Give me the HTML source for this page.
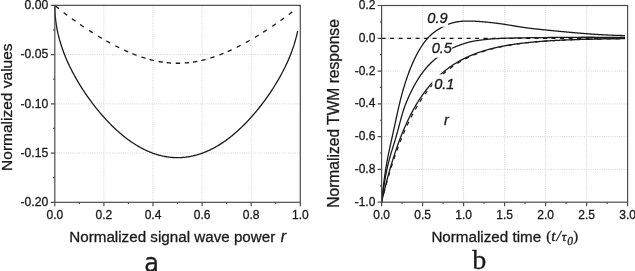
<!DOCTYPE html>
<html><head><meta charset="utf-8"><style>
html,body{margin:0;padding:0;background:#fff;width:635px;height:271px;overflow:hidden}
svg{display:block}
.t{font-family:"Liberation Sans",Arial,sans-serif}
text{stroke:#1a1a1a;stroke-width:0.3px}
</style></head><body>
<svg width="635" height="271" viewBox="0 0 635 271"><path d="M103.9 5.35 V202.3 M153 5.35 V202.3 M202.1 5.35 V202.3 M251.2 5.35 V202.3 M54.8 54.59 H300.3 M54.8 103.83 H300.3 M54.8 153.06 H300.3 M422.6 5.5 V202.2 M463.6 5.5 V202.2 M504.6 5.5 V202.2 M545.6 5.5 V202.2 M586.6 5.5 V202.2 M381.6 38.28 H627.6 M381.6 71.07 H627.6 M381.6 103.85 H627.6 M381.6 136.63 H627.6 M381.6 169.42 H627.6" stroke="#d4d4d4" stroke-width="1" stroke-dasharray="1 1.2" fill="none"/>
<path d="M54.8 5.35 L54.88 9.9 L54.97 11.79 L55.05 13.23 L55.13 14.45 L55.22 15.53 L55.3 16.5 L55.38 17.39 L55.47 18.22 L55.55 19 L55.63 19.74 L55.72 20.44 L55.8 21.11 L55.88 21.76 L55.97 22.38 L56.05 22.97 L56.13 23.55 L56.21 24.11 L56.3 24.66 L56.38 25.18 L56.46 25.7 L56.55 26.2 L56.63 26.69 L56.71 27.17 L56.8 27.64 L56.88 28.1 L56.96 28.55 L57.05 28.99 L57.13 29.42 L57.21 29.85 L57.3 30.27 L57.38 30.68 L57.46 31.09 L57.55 31.48 L57.63 31.88 L57.71 32.26 L57.8 32.65 L57.88 33.02 L57.96 33.39 L58.05 33.76 L58.13 34.12 L58.21 34.48 L58.3 34.83 L58.38 35.18 L58.46 35.52 L58.54 35.86 L58.63 36.2 L58.71 36.54 L58.79 36.87 L58.88 37.19 L58.96 37.51 L59.04 37.83 L59.13 38.15 L59.21 38.47 L59.29 38.78 L59.38 39.08 L59.46 39.39 L59.54 39.69 L59.63 39.99 L59.71 40.29 L60.49 42.96 L61.27 45.46 L62.05 47.81 L62.83 50.05 L63.61 52.17 L64.39 54.21 L65.17 56.17 L65.95 58.06 L66.73 59.89 L67.51 61.66 L68.29 63.38 L69.07 65.05 L69.85 66.68 L70.63 68.27 L71.41 69.83 L72.19 71.35 L72.97 72.83 L73.75 74.29 L74.53 75.72 L75.31 77.13 L76.09 78.51 L76.87 79.87 L77.65 81.2 L78.43 82.52 L79.21 83.81 L79.99 85.08 L80.77 86.34 L81.55 87.58 L82.33 88.8 L83.11 90 L83.89 91.19 L84.67 92.36 L85.45 93.52 L86.23 94.66 L87.01 95.79 L87.79 96.9 L88.57 98 L89.35 99.09 L90.13 100.17 L90.91 101.23 L91.69 102.28 L92.47 103.32 L93.25 104.34 L94.03 105.36 L94.81 106.36 L95.59 107.35 L96.37 108.33 L97.15 109.3 L97.93 110.26 L98.71 111.2 L99.49 112.14 L100.27 113.06 L101.05 113.98 L101.83 114.88 L102.61 115.78 L103.39 116.66 L104.17 117.54 L104.95 118.4 L105.73 119.25 L106.51 120.09 L107.29 120.93 L108.07 121.75 L108.85 122.56 L109.63 123.37 L110.41 124.16 L111.19 124.95 L111.97 125.72 L112.75 126.49 L113.53 127.24 L114.31 127.99 L115.09 128.72 L115.87 129.45 L116.65 130.16 L117.43 130.87 L118.21 131.57 L118.99 132.26 L119.77 132.94 L120.55 133.6 L121.33 134.26 L122.11 134.91 L122.89 135.56 L123.67 136.19 L124.45 136.81 L125.23 137.42 L126.01 138.03 L126.79 138.62 L127.57 139.2 L128.35 139.78 L129.13 140.35 L129.91 140.9 L130.69 141.45 L131.47 141.99 L132.25 142.52 L133.03 143.04 L133.81 143.55 L134.59 144.05 L135.37 144.54 L136.15 145.03 L136.93 145.5 L137.71 145.96 L138.49 146.42 L139.27 146.87 L140.05 147.3 L140.83 147.73 L141.61 148.15 L142.39 148.56 L143.17 148.96 L143.95 149.35 L144.73 149.73 L145.51 150.11 L146.29 150.47 L147.07 150.82 L147.85 151.17 L148.63 151.51 L149.41 151.83 L150.19 152.15 L150.97 152.46 L151.75 152.76 L152.53 153.05 L153.31 153.34 L154.09 153.61 L154.87 153.88 L155.65 154.13 L156.43 154.38 L157.21 154.61 L157.99 154.84 L158.77 155.06 L159.55 155.27 L160.33 155.47 L161.11 155.67 L161.89 155.85 L162.67 156.02 L163.45 156.19 L164.23 156.35 L165.01 156.49 L165.79 156.63 L166.57 156.76 L167.35 156.88 L168.13 157 L168.91 157.1 L169.69 157.19 L170.47 157.28 L171.25 157.36 L172.03 157.42 L172.81 157.48 L173.59 157.53 L174.37 157.57 L175.15 157.6 L175.93 157.63 L176.71 157.64 L177.49 157.65 L178.27 157.64 L179.05 157.63 L179.83 157.61 L180.61 157.58 L181.39 157.54 L182.17 157.49 L182.95 157.43 L183.73 157.37 L184.51 157.29 L185.29 157.21 L186.07 157.11 L186.85 157.01 L187.63 156.9 L188.41 156.78 L189.19 156.65 L189.97 156.52 L190.75 156.37 L191.53 156.21 L192.31 156.05 L193.09 155.88 L193.87 155.69 L194.65 155.5 L195.43 155.3 L196.21 155.09 L196.99 154.88 L197.77 154.65 L198.55 154.41 L199.33 154.17 L200.11 153.91 L200.89 153.65 L201.67 153.38 L202.45 153.1 L203.23 152.81 L204.01 152.51 L204.79 152.2 L205.57 151.88 L206.35 151.56 L207.13 151.22 L207.91 150.88 L208.69 150.52 L209.47 150.16 L210.25 149.79 L211.03 149.41 L211.81 149.02 L212.59 148.62 L213.37 148.21 L214.15 147.79 L214.93 147.37 L215.71 146.93 L216.49 146.49 L217.27 146.03 L218.05 145.57 L218.83 145.1 L219.61 144.61 L220.39 144.12 L221.17 143.62 L221.95 143.11 L222.73 142.6 L223.51 142.07 L224.29 141.53 L225.07 140.98 L225.85 140.43 L226.63 139.86 L227.41 139.29 L228.19 138.71 L228.97 138.11 L229.75 137.51 L230.53 136.9 L231.31 136.28 L232.09 135.65 L232.87 135.01 L233.65 134.36 L234.43 133.7 L235.21 133.03 L235.99 132.36 L236.77 131.67 L237.55 130.97 L238.33 130.27 L239.11 129.55 L239.89 128.83 L240.67 128.09 L241.45 127.35 L242.23 126.6 L243.01 125.83 L243.79 125.06 L244.57 124.28 L245.35 123.49 L246.13 122.68 L246.91 121.87 L247.69 121.05 L248.47 120.22 L249.25 119.38 L250.03 118.52 L250.81 117.66 L251.59 116.79 L252.37 115.91 L253.15 115.02 L253.93 114.11 L254.71 113.2 L255.49 112.28 L256.27 111.34 L257.05 110.4 L257.83 109.44 L258.61 108.47 L259.39 107.5 L260.17 106.51 L260.95 105.51 L261.73 104.49 L262.51 103.47 L263.29 102.43 L264.07 101.39 L264.85 100.32 L265.63 99.25 L266.41 98.17 L267.19 97.07 L267.97 95.95 L268.75 94.83 L269.53 93.69 L270.31 92.53 L271.09 91.36 L271.87 90.18 L272.65 88.98 L273.43 87.76 L274.21 86.52 L274.99 85.27 L275.77 84 L276.55 82.71 L277.33 81.4 L278.11 80.07 L278.89 78.71 L279.67 77.34 L280.45 75.93 L281.23 74.51 L282.01 73.05 L282.79 71.57 L283.57 70.05 L284.35 68.5 L285.13 66.92 L285.91 65.29 L286.69 63.63 L287.47 61.91 L288.25 60.15 L289.03 58.33 L289.81 56.45 L290.59 54.51 L291.37 52.48 L292.15 50.37 L292.94 48.15 L293.1 47.67 L293.26 47.18 L293.43 46.69 L293.59 46.19 L293.76 45.69 L293.92 45.18 L294.08 44.66 L294.25 44.14 L294.41 43.61 L294.58 43.07 L294.74 42.53 L294.91 41.97 L295.07 41.41 L295.23 40.84 L295.4 40.26 L295.56 39.67 L295.73 39.07 L295.89 38.46 L296.06 37.84 L296.22 37.2 L296.38 36.55 L296.55 35.89 L296.71 35.22 L296.88 34.53 L297.04 33.82 L297.21 33.09 L297.37 32.35 L297.53 31.58 L297.7 30.79" stroke="#1a1a1a" stroke-width="1.3" fill="none"/>
<path d="M54.8 5.35 L55.62 6.04 L56.44 6.72 L57.26 7.4 L58.08 8.07 L58.91 8.74 L59.73 9.4 L60.55 10.06 L61.37 10.71 L62.19 11.36 L63.01 12 L63.83 12.64 L64.65 13.27 L65.47 13.9 L66.29 14.52 L67.12 15.14 L67.94 15.76 L68.76 16.37 L69.58 16.98 L70.4 17.58 L71.22 18.18 L72.04 18.78 L72.86 19.37 L73.68 19.96 L74.51 20.55 L75.33 21.13 L76.15 21.71 L76.97 22.29 L77.79 22.86 L78.61 23.43 L79.43 24 L80.25 24.57 L81.07 25.13 L81.9 25.68 L82.72 26.24 L83.54 26.79 L84.36 27.34 L85.18 27.88 L86 28.43 L86.82 28.97 L87.64 29.5 L88.46 30.04 L89.28 30.57 L90.11 31.1 L90.93 31.62 L91.75 32.14 L92.57 32.66 L93.39 33.18 L94.21 33.69 L95.03 34.2 L95.85 34.71 L96.67 35.21 L97.5 35.71 L98.32 36.21 L99.14 36.71 L99.96 37.2 L100.78 37.69 L101.6 38.17 L102.42 38.65 L103.24 39.13 L104.06 39.61 L104.89 40.08 L105.71 40.55 L106.53 41.02 L107.35 41.48 L108.17 41.94 L108.99 42.39 L109.81 42.84 L110.63 43.29 L111.45 43.74 L112.27 44.18 L113.1 44.61 L113.92 45.05 L114.74 45.48 L115.56 45.9 L116.38 46.32 L117.2 46.74 L118.02 47.15 L118.84 47.56 L119.66 47.97 L120.49 48.37 L121.31 48.77 L122.13 49.16 L122.95 49.55 L123.77 49.93 L124.59 50.31 L125.41 50.69 L126.23 51.06 L127.05 51.42 L127.88 51.78 L128.7 52.14 L129.52 52.49 L130.34 52.84 L131.16 53.18 L131.98 53.52 L132.8 53.85 L133.62 54.18 L134.44 54.5 L135.26 54.82 L136.09 55.13 L136.91 55.44 L137.73 55.74 L138.55 56.04 L139.37 56.33 L140.19 56.61 L141.01 56.89 L141.83 57.17 L142.65 57.44 L143.48 57.7 L144.3 57.96 L145.12 58.21 L145.94 58.46 L146.76 58.7 L147.58 58.94 L148.4 59.16 L149.22 59.39 L150.04 59.61 L150.87 59.82 L151.69 60.02 L152.51 60.22 L153.33 60.42 L154.15 60.6 L154.97 60.78 L155.79 60.96 L156.61 61.13 L157.43 61.29 L158.25 61.45 L159.08 61.6 L159.9 61.74 L160.72 61.88 L161.54 62.01 L162.36 62.13 L163.18 62.25 L164 62.36 L164.82 62.47 L165.64 62.57 L166.47 62.66 L167.29 62.74 L168.11 62.82 L168.93 62.9 L169.75 62.96 L170.57 63.02 L171.39 63.08 L172.21 63.12 L173.03 63.16 L173.86 63.19 L174.68 63.22 L175.5 63.24 L176.32 63.25 L177.14 63.26 L177.96 63.26 L178.78 63.25 L179.6 63.24 L180.42 63.22 L181.24 63.19 L182.07 63.16 L182.89 63.12 L183.71 63.08 L184.53 63.02 L185.35 62.96 L186.17 62.9 L186.99 62.82 L187.81 62.74 L188.63 62.66 L189.46 62.57 L190.28 62.47 L191.1 62.36 L191.92 62.25 L192.74 62.13 L193.56 62.01 L194.38 61.88 L195.2 61.74 L196.02 61.6 L196.85 61.45 L197.67 61.29 L198.49 61.13 L199.31 60.96 L200.13 60.78 L200.95 60.6 L201.77 60.42 L202.59 60.22 L203.41 60.02 L204.23 59.82 L205.06 59.61 L205.88 59.39 L206.7 59.16 L207.52 58.94 L208.34 58.7 L209.16 58.46 L209.98 58.21 L210.8 57.96 L211.62 57.7 L212.45 57.44 L213.27 57.17 L214.09 56.89 L214.91 56.61 L215.73 56.33 L216.55 56.04 L217.37 55.74 L218.19 55.44 L219.01 55.13 L219.84 54.82 L220.66 54.5 L221.48 54.18 L222.3 53.85 L223.12 53.52 L223.94 53.18 L224.76 52.84 L225.58 52.49 L226.4 52.14 L227.22 51.78 L228.05 51.42 L228.87 51.06 L229.69 50.69 L230.51 50.31 L231.33 49.93 L232.15 49.55 L232.97 49.16 L233.79 48.77 L234.61 48.37 L235.44 47.97 L236.26 47.56 L237.08 47.15 L237.9 46.74 L238.72 46.32 L239.54 45.9 L240.36 45.48 L241.18 45.05 L242 44.61 L242.83 44.18 L243.65 43.74 L244.47 43.29 L245.29 42.84 L246.11 42.39 L246.93 41.94 L247.75 41.48 L248.57 41.02 L249.39 40.55 L250.21 40.08 L251.04 39.61 L251.86 39.13 L252.68 38.65 L253.5 38.17 L254.32 37.69 L255.14 37.2 L255.96 36.71 L256.78 36.21 L257.6 35.71 L258.43 35.21 L259.25 34.71 L260.07 34.2 L260.89 33.69 L261.71 33.18 L262.53 32.66 L263.35 32.14 L264.17 31.62 L264.99 31.1 L265.82 30.57 L266.64 30.04 L267.46 29.5 L268.28 28.97 L269.1 28.43 L269.92 27.88 L270.74 27.34 L271.56 26.79 L272.38 26.24 L273.2 25.68 L274.03 25.13 L274.85 24.57 L275.67 24 L276.49 23.43 L277.31 22.86 L278.13 22.29 L278.95 21.71 L279.77 21.13 L280.59 20.55 L281.42 19.96 L282.24 19.37 L283.06 18.78 L283.88 18.18 L284.7 17.58 L285.52 16.98 L286.34 16.37 L287.16 15.76 L287.98 15.14 L288.81 14.52 L289.63 13.9 L290.45 13.27 L291.27 12.64 L292.09 12 L292.91 11.36 L293.73 10.71 L294.55 10.06 L295.37 9.4 L296.19 8.74 L297.02 8.07 L297.84 7.4 L298.66 6.72 L299.48 6.04 L300.3 5.35" stroke="#1a1a1a" stroke-width="1.3" stroke-dasharray="5.40 6.07 4.40 5.81 4.40 5.61 4.40 6.41 4.40 6.22 4.40 5.08 4.40 5.83 4.40 5.61 4.40 4.51 4.40 5.18 4.40 4.13 4.40 4.82 4.40 3.88 4.40 4.64 4.40 4.65 4.40 3.88 4.40 3.99 4.40 5.00 4.40 5.20 4.40 4.52 4.40 5.63 4.40 5.85 4.40 6.06 4.40 5.27 4.40 6.43 4.40 5.63 4.40 5.83 4.40 9.24 1.20 10.00" fill="none"/>
<path d="M381.6 38.28 H627.6" stroke="#1a1a1a" stroke-width="1.3" stroke-dasharray="4 4.5" fill="none"/>
<path d="M381.6 202.2 L382.09 200.23 L382.58 198.29 L383.06 196.37 L383.55 194.47 L384.04 192.6 L384.53 190.74 L385.01 188.92 L385.5 187.11 L385.99 185.32 L386.48 183.56 L386.97 181.81 L387.45 180.09 L387.94 178.39 L388.43 176.71 L388.92 175.05 L389.4 173.4 L389.89 171.78 L390.38 170.18 L390.87 168.6 L391.35 167.03 L391.84 165.49 L392.33 163.96 L392.82 162.45 L393.31 160.96 L393.79 159.49 L394.28 158.04 L394.77 156.6 L395.26 155.18 L395.74 153.78 L396.23 152.39 L396.72 151.02 L397.21 149.67 L397.7 148.33 L398.18 147.01 L398.67 145.7 L399.16 144.42 L399.65 143.14 L400.13 141.88 L400.62 140.64 L401.11 139.41 L401.6 138.2 L402.08 137 L402.57 135.81 L403.06 134.64 L403.55 133.49 L404.04 132.34 L404.52 131.22 L405.01 130.1 L405.5 129 L405.99 127.91 L406.47 126.83 L406.96 125.77 L407.45 124.72 L407.94 123.68 L408.43 122.66 L408.91 121.65 L409.4 120.65 L409.89 119.66 L410.38 118.68 L410.86 117.72 L411.35 116.76 L411.84 115.82 L412.33 114.89 L412.81 113.97 L413.3 113.06 L413.79 112.16 L414.28 111.28 L414.77 110.4 L415.25 109.54 L415.74 108.68 L416.23 107.84 L416.72 107 L417.2 106.18 L417.69 105.36 L418.18 104.56 L418.67 103.76 L419.16 102.98 L419.64 102.2 L420.13 101.43 L420.62 100.67 L421.11 99.93 L421.59 99.19 L422.08 98.45 L422.57 97.73 L423.06 97.02 L423.54 96.31 L424.03 95.62 L424.52 94.93 L425.01 94.25 L425.5 93.58 L425.98 92.91 L426.47 92.26 L426.96 91.61 L427.45 90.97 L427.93 90.34 L428.42 89.71 L428.91 89.1 L429.4 88.49 L429.89 87.88 L430.37 87.29 L430.86 86.7 L431.35 86.12 L431.84 85.55 L432.32 84.98 L432.81 84.42 L433.3 83.86 L433.79 83.32 L434.27 82.78 L434.76 82.24 L435.25 81.72 L435.74 81.19 L436.23 80.68 L436.71 80.17 L437.2 79.67 L437.69 79.17 L438.18 78.68 L438.66 78.2 L439.15 77.72 L439.64 77.24 L440.13 76.78 L440.62 76.31 L441.1 75.86 L441.59 75.41 L442.08 74.96 L442.57 74.52 L443.05 74.09 L443.54 73.66 L444.03 73.23 L444.52 72.81 L445 72.4 L445.49 71.99 L445.98 71.58 L446.47 71.18 L446.96 70.79 L447.44 70.4 L447.93 70.01 L448.42 69.63 L448.91 69.26 L449.39 68.88 L449.88 68.52 L450.37 68.15 L450.86 67.8 L451.35 67.44 L451.83 67.09 L452.32 66.75 L452.81 66.4 L453.3 66.07 L453.78 65.73 L454.27 65.4 L454.76 65.08 L455.25 64.76 L455.73 64.44 L456.22 64.13 L456.71 63.82 L457.2 63.51 L457.69 63.21 L458.17 62.91 L458.66 62.61 L459.15 62.32 L459.64 62.03 L460.12 61.75 L460.61 61.46 L461.1 61.19 L461.59 60.91 L462.08 60.64 L462.56 60.37 L463.05 60.11 L463.54 59.84 L464.03 59.59 L464.51 59.33 L465 59.08 L465.49 58.83 L465.98 58.58 L466.46 58.34 L466.95 58.1 L467.44 57.86 L467.93 57.62 L468.42 57.39 L468.9 57.16 L469.39 56.94 L469.88 56.71 L470.37 56.49 L470.85 56.27 L471.34 56.06 L471.83 55.84 L472.32 55.63 L472.81 55.42 L473.29 55.22 L473.78 55.02 L474.27 54.81 L474.76 54.62 L475.24 54.42 L475.73 54.23 L476.22 54.04 L476.71 53.85 L477.19 53.66 L477.68 53.47 L478.17 53.29 L478.66 53.11 L479.15 52.93 L479.63 52.76 L480.12 52.58 L480.61 52.41 L481.1 52.24 L481.58 52.08 L482.07 51.91 L482.56 51.75 L483.05 51.59 L483.54 51.43 L484.02 51.27 L484.51 51.11 L485 50.96 L485.49 50.81 L485.97 50.66 L486.46 50.51 L486.95 50.36 L487.44 50.22 L487.92 50.07 L488.41 49.93 L488.9 49.79 L489.39 49.65 L489.88 49.52 L490.36 49.38 L490.85 49.25 L491.34 49.12 L491.83 48.99 L492.31 48.86 L492.8 48.73 L493.29 48.61 L493.78 48.48 L494.27 48.36 L494.75 48.24 L495.24 48.12 L495.73 48 L496.22 47.88 L496.7 47.77 L497.19 47.66 L497.68 47.54 L498.17 47.43 L498.65 47.32 L499.14 47.21 L499.63 47.11 L500.12 47 L500.61 46.9 L501.09 46.79 L501.58 46.69 L502.07 46.59 L502.56 46.49 L503.04 46.39 L503.53 46.29 L504.02 46.2 L504.51 46.1 L505 46.01 L505.48 45.92 L505.97 45.82 L506.46 45.73 L506.95 45.64 L507.43 45.56 L507.92 45.47 L508.41 45.38 L508.9 45.3 L509.38 45.21 L509.87 45.13 L510.36 45.05 L510.85 44.97 L511.34 44.89 L511.82 44.81 L512.31 44.73 L512.8 44.65 L513.29 44.58 L513.77 44.5 L514.26 44.43 L514.75 44.35 L515.24 44.28 L515.73 44.21 L516.21 44.14 L516.7 44.07 L517.19 44 L517.68 43.93 L518.16 43.86 L518.65 43.79 L519.14 43.73 L519.63 43.66 L520.11 43.6 L520.6 43.53 L521.09 43.47 L521.58 43.41 L522.07 43.35 L522.55 43.29 L523.04 43.23 L523.53 43.17 L524.02 43.11 L524.5 43.05 L524.99 42.99 L525.48 42.94 L525.97 42.88 L526.46 42.83 L526.94 42.77 L527.43 42.72 L527.92 42.66 L528.41 42.61 L528.89 42.56 L529.38 42.51 L529.87 42.46 L530.36 42.41 L530.84 42.36 L531.33 42.31 L531.82 42.26 L532.31 42.21 L532.8 42.17 L533.28 42.12 L533.77 42.07 L534.26 42.03 L534.75 41.98 L535.23 41.94 L535.72 41.89 L536.21 41.85 L536.7 41.81 L537.19 41.77 L537.67 41.72 L538.16 41.68 L538.65 41.64 L539.14 41.6 L539.62 41.56 L540.11 41.52 L540.6 41.48 L541.09 41.44 L541.57 41.41 L542.06 41.37 L542.55 41.33 L543.04 41.3 L543.53 41.26 L544.01 41.22 L544.5 41.19 L544.99 41.15 L545.48 41.12 L545.96 41.09 L546.45 41.05 L546.94 41.02 L547.43 40.99 L547.92 40.95 L548.4 40.92 L548.89 40.89 L549.38 40.86 L549.87 40.83 L550.35 40.8 L550.84 40.77 L551.33 40.74 L551.82 40.71 L552.3 40.68 L552.79 40.65 L553.28 40.62 L553.77 40.59 L554.26 40.57 L554.74 40.54 L555.23 40.51 L555.72 40.48 L556.21 40.46 L556.69 40.43 L557.18 40.41 L557.67 40.38 L558.16 40.36 L558.65 40.33 L559.13 40.31 L559.62 40.28 L560.11 40.26 L560.6 40.23 L561.08 40.21 L561.57 40.19 L562.06 40.16 L562.55 40.14 L563.03 40.12 L563.52 40.1 L564.01 40.08 L564.5 40.05 L564.99 40.03 L565.47 40.01 L565.96 39.99 L566.45 39.97 L566.94 39.95 L567.42 39.93 L567.91 39.91 L568.4 39.89 L568.89 39.87 L569.38 39.85 L569.86 39.83 L570.35 39.82 L570.84 39.8 L571.33 39.78 L571.81 39.76 L572.3 39.74 L572.79 39.73 L573.28 39.71 L573.76 39.69 L574.25 39.67 L574.74 39.66 L575.23 39.64 L575.72 39.62 L576.2 39.61 L576.69 39.59 L577.18 39.58 L577.67 39.56 L578.15 39.55 L578.64 39.53 L579.13 39.52 L579.62 39.5 L580.11 39.49 L580.59 39.47 L581.08 39.46 L581.57 39.44 L582.06 39.43 L582.54 39.42 L583.03 39.4 L583.52 39.39 L584.01 39.38 L584.49 39.36 L584.98 39.35 L585.47 39.34 L585.96 39.32 L586.45 39.31 L586.93 39.3 L587.42 39.29 L587.91 39.28 L588.4 39.26 L588.88 39.25 L589.37 39.24 L589.86 39.23 L590.35 39.22 L590.84 39.21 L591.32 39.19 L591.81 39.18 L592.3 39.17 L592.79 39.16 L593.27 39.15 L593.76 39.14 L594.25 39.13 L594.74 39.12 L595.22 39.11 L595.71 39.1 L596.2 39.09 L596.69 39.08 L597.18 39.07 L597.66 39.06 L598.15 39.05 L598.64 39.04 L599.13 39.03 L599.61 39.03 L600.1 39.02 L600.59 39.01 L601.08 39 L601.57 38.99 L602.05 38.98 L602.54 38.97 L603.03 38.97 L603.52 38.96 L604 38.95 L604.49 38.94 L604.98 38.93 L605.47 38.93 L605.95 38.92 L606.44 38.91 L606.93 38.9 L607.42 38.9 L607.91 38.89 L608.39 38.88 L608.88 38.87 L609.37 38.87 L609.86 38.86 L610.34 38.85 L610.83 38.85 L611.32 38.84 L611.81 38.83 L612.3 38.83 L612.78 38.82 L613.27 38.81 L613.76 38.81 L614.25 38.8 L614.73 38.79 L615.22 38.79 L615.71 38.78 L616.2 38.78 L616.68 38.77 L617.17 38.76 L617.66 38.76 L618.15 38.75 L618.64 38.75 L619.12 38.74 L619.61 38.74 L620.1 38.73 L620.59 38.73 L621.07 38.72 L621.56 38.71 L622.05 38.71 L622.54 38.7 L623.03 38.7 L623.51 38.69 L624 38.69 L624.49 38.68 L624.98 38.68" stroke="#1a1a1a" stroke-width="1.2" stroke-dasharray="4 5" fill="none"/>
<path d="M381.6 202.2 L382.09 200.04 L382.58 197.91 L383.06 195.82 L383.55 193.75 L384.04 191.72 L384.53 189.71 L385.01 187.74 L385.5 185.79 L385.99 183.87 L386.48 181.97 L386.97 180.11 L387.45 178.27 L387.94 176.45 L388.43 174.67 L388.92 172.91 L389.4 171.17 L389.89 169.46 L390.38 167.77 L390.87 166.1 L391.35 164.46 L391.84 162.84 L392.33 161.25 L392.82 159.67 L393.31 158.12 L393.79 156.59 L394.28 155.09 L394.77 153.6 L395.26 152.13 L395.74 150.68 L396.23 149.26 L396.72 147.85 L397.21 146.46 L397.7 145.09 L398.18 143.74 L398.67 142.41 L399.16 141.1 L399.65 139.8 L400.13 138.52 L400.62 137.26 L401.11 136.02 L401.6 134.79 L402.08 133.58 L402.57 132.39 L403.06 131.21 L403.55 130.05 L404.04 128.9 L404.52 127.77 L405.01 126.65 L405.5 125.55 L405.99 124.47 L406.47 123.39 L406.96 122.34 L407.45 121.29 L407.94 120.26 L408.43 119.25 L408.91 118.24 L409.4 117.25 L409.89 116.28 L410.38 115.31 L410.86 114.36 L411.35 113.42 L411.84 112.49 L412.33 111.58 L412.81 110.68 L413.3 109.79 L413.79 108.91 L414.28 108.04 L414.77 107.18 L415.25 106.34 L415.74 105.5 L416.23 104.68 L416.72 103.87 L417.2 103.06 L417.69 102.27 L418.18 101.49 L418.67 100.72 L419.16 99.95 L419.64 99.2 L420.13 98.46 L420.62 97.72 L421.11 97 L421.59 96.29 L422.08 95.58 L422.57 94.88 L423.06 94.19 L423.54 93.52 L424.03 92.84 L424.52 92.18 L425.01 91.53 L425.5 90.88 L425.98 90.25 L426.47 89.62 L426.96 88.99 L427.45 88.38 L427.93 87.78 L428.42 87.18 L428.91 86.59 L429.4 86 L429.89 85.43 L430.37 84.86 L430.86 84.3 L431.35 83.74 L431.84 83.19 L432.32 82.65 L432.81 82.12 L433.3 81.59 L433.79 81.07 L434.27 80.55 L434.76 80.05 L435.25 79.54 L435.74 79.05 L436.23 78.56 L436.71 78.07 L437.2 77.6 L437.69 77.12 L438.18 76.66 L438.66 76.2 L439.15 75.74 L439.64 75.29 L440.13 74.85 L440.62 74.41 L441.1 73.98 L441.59 73.55 L442.08 73.13 L442.57 72.71 L443.05 72.3 L443.54 71.9 L444.03 71.49 L444.52 71.1 L445 70.7 L445.49 70.32 L445.98 69.93 L446.47 69.56 L446.96 69.18 L447.44 68.81 L447.93 68.45 L448.42 68.09 L448.91 67.73 L449.39 67.38 L449.88 67.04 L450.37 66.69 L450.86 66.36 L451.35 66.02 L451.83 65.69 L452.32 65.36 L452.81 65.04 L453.3 64.72 L453.78 64.41 L454.27 64.1 L454.76 63.79 L455.25 63.49 L455.73 63.19 L456.22 62.89 L456.71 62.6 L457.2 62.31 L457.69 62.02 L458.17 61.74 L458.66 61.46 L459.15 61.19 L459.64 60.92 L460.12 60.65 L460.61 60.38 L461.1 60.12 L461.59 59.86 L462.08 59.6 L462.56 59.35 L463.05 59.1 L463.54 58.85 L464.03 58.61 L464.51 58.37 L465 58.13 L465.49 57.89 L465.98 57.66 L466.46 57.43 L466.95 57.2 L467.44 56.98 L467.93 56.76 L468.42 56.54 L468.9 56.32 L469.39 56.11 L469.88 55.9 L470.37 55.69 L470.85 55.48 L471.34 55.28 L471.83 55.08 L472.32 54.88 L472.81 54.68 L473.29 54.49 L473.78 54.29 L474.27 54.11 L474.76 53.92 L475.24 53.73 L475.73 53.55 L476.22 53.37 L476.71 53.19 L477.19 53.01 L477.68 52.84 L478.17 52.67 L478.66 52.5 L479.15 52.33 L479.63 52.16 L480.12 52 L480.61 51.83 L481.1 51.67 L481.58 51.52 L482.07 51.36 L482.56 51.2 L483.05 51.05 L483.54 50.9 L484.02 50.75 L484.51 50.6 L485 50.46 L485.49 50.31 L485.97 50.17 L486.46 50.03 L486.95 49.89 L487.44 49.75 L487.92 49.62 L488.41 49.48 L488.9 49.35 L489.39 49.22 L489.88 49.09 L490.36 48.96 L490.85 48.84 L491.34 48.71 L491.83 48.59 L492.31 48.47 L492.8 48.35 L493.29 48.23 L493.78 48.11 L494.27 47.99 L494.75 47.88 L495.24 47.76 L495.73 47.65 L496.22 47.54 L496.7 47.43 L497.19 47.32 L497.68 47.22 L498.17 47.11 L498.65 47.01 L499.14 46.9 L499.63 46.8 L500.12 46.7 L500.61 46.6 L501.09 46.5 L501.58 46.4 L502.07 46.31 L502.56 46.21 L503.04 46.12 L503.53 46.03 L504.02 45.93 L504.51 45.84 L505 45.75 L505.48 45.67 L505.97 45.58 L506.46 45.49 L506.95 45.41 L507.43 45.32 L507.92 45.24 L508.41 45.16 L508.9 45.08 L509.38 45 L509.87 44.92 L510.36 44.84 L510.85 44.76 L511.34 44.68 L511.82 44.61 L512.31 44.53 L512.8 44.46 L513.29 44.38 L513.77 44.31 L514.26 44.24 L514.75 44.17 L515.24 44.1 L515.73 44.03 L516.21 43.96 L516.7 43.9 L517.19 43.83 L517.68 43.76 L518.16 43.7 L518.65 43.64 L519.14 43.57 L519.63 43.51 L520.11 43.45 L520.6 43.39 L521.09 43.33 L521.58 43.27 L522.07 43.21 L522.55 43.15 L523.04 43.09 L523.53 43.03 L524.02 42.98 L524.5 42.92 L524.99 42.87 L525.48 42.81 L525.97 42.76 L526.46 42.71 L526.94 42.65 L527.43 42.6 L527.92 42.55 L528.41 42.5 L528.89 42.45 L529.38 42.4 L529.87 42.35 L530.36 42.3 L530.84 42.26 L531.33 42.21 L531.82 42.16 L532.31 42.12 L532.8 42.07 L533.28 42.03 L533.77 41.98 L534.26 41.94 L534.75 41.89 L535.23 41.85 L535.72 41.81 L536.21 41.77 L536.7 41.73 L537.19 41.68 L537.67 41.64 L538.16 41.6 L538.65 41.56 L539.14 41.53 L539.62 41.49 L540.11 41.45 L540.6 41.41 L541.09 41.37 L541.57 41.34 L542.06 41.3 L542.55 41.27 L543.04 41.23 L543.53 41.2 L544.01 41.16 L544.5 41.13 L544.99 41.09 L545.48 41.06 L545.96 41.03 L546.45 40.99 L546.94 40.96 L547.43 40.93 L547.92 40.9 L548.4 40.87 L548.89 40.84 L549.38 40.81 L549.87 40.78 L550.35 40.75 L550.84 40.72 L551.33 40.69 L551.82 40.66 L552.3 40.63 L552.79 40.6 L553.28 40.58 L553.77 40.55 L554.26 40.52 L554.74 40.5 L555.23 40.47 L555.72 40.44 L556.21 40.42 L556.69 40.39 L557.18 40.37 L557.67 40.34 L558.16 40.32 L558.65 40.29 L559.13 40.27 L559.62 40.25 L560.11 40.22 L560.6 40.2 L561.08 40.18 L561.57 40.15 L562.06 40.13 L562.55 40.11 L563.03 40.09 L563.52 40.07 L564.01 40.05 L564.5 40.02 L564.99 40 L565.47 39.98 L565.96 39.96 L566.45 39.94 L566.94 39.92 L567.42 39.9 L567.91 39.88 L568.4 39.87 L568.89 39.85 L569.38 39.83 L569.86 39.81 L570.35 39.79 L570.84 39.77 L571.33 39.76 L571.81 39.74 L572.3 39.72 L572.79 39.7 L573.28 39.69 L573.76 39.67 L574.25 39.65 L574.74 39.64 L575.23 39.62 L575.72 39.61 L576.2 39.59 L576.69 39.57 L577.18 39.56 L577.67 39.54 L578.15 39.53 L578.64 39.51 L579.13 39.5 L579.62 39.48 L580.11 39.47 L580.59 39.46 L581.08 39.44 L581.57 39.43 L582.06 39.41 L582.54 39.4 L583.03 39.39 L583.52 39.37 L584.01 39.36 L584.49 39.35 L584.98 39.34 L585.47 39.32 L585.96 39.31 L586.45 39.3 L586.93 39.29 L587.42 39.27 L587.91 39.26 L588.4 39.25 L588.88 39.24 L589.37 39.23 L589.86 39.22 L590.35 39.21 L590.84 39.19 L591.32 39.18 L591.81 39.17 L592.3 39.16 L592.79 39.15 L593.27 39.14 L593.76 39.13 L594.25 39.12 L594.74 39.11 L595.22 39.1 L595.71 39.09 L596.2 39.08 L596.69 39.07 L597.18 39.06 L597.66 39.05 L598.15 39.04 L598.64 39.04 L599.13 39.03 L599.61 39.02 L600.1 39.01 L600.59 39 L601.08 38.99 L601.57 38.98 L602.05 38.98 L602.54 38.97 L603.03 38.96 L603.52 38.95 L604 38.94 L604.49 38.93 L604.98 38.93 L605.47 38.92 L605.95 38.91 L606.44 38.9 L606.93 38.9 L607.42 38.89 L607.91 38.88 L608.39 38.88 L608.88 38.87 L609.37 38.86 L609.86 38.85 L610.34 38.85 L610.83 38.84 L611.32 38.83 L611.81 38.83 L612.3 38.82 L612.78 38.81 L613.27 38.81 L613.76 38.8 L614.25 38.8 L614.73 38.79 L615.22 38.78 L615.71 38.78 L616.2 38.77 L616.68 38.77 L617.17 38.76 L617.66 38.75 L618.15 38.75 L618.64 38.74 L619.12 38.74 L619.61 38.73 L620.1 38.73 L620.59 38.72 L621.07 38.72 L621.56 38.71 L622.05 38.71 L622.54 38.7 L623.03 38.7 L623.51 38.69 L624 38.69 L624.49 38.68 L624.98 38.68" stroke="#1a1a1a" stroke-width="1.3" fill="none"/>
<path d="M381.6 202.2 L382.09 198.71 L382.58 195.26 L383.06 191.88 L383.55 188.58 L384.04 185.37 L384.53 182.28 L385.01 179.32 L385.5 176.5 L385.99 173.85 L386.48 171.39 L386.97 169.1 L387.45 166.93 L387.94 164.85 L388.43 162.86 L388.92 160.94 L389.4 159.1 L389.89 157.32 L390.38 155.59 L390.87 153.91 L391.35 152.27 L391.84 150.66 L392.33 149.07 L392.82 147.5 L393.31 145.93 L393.79 144.36 L394.28 142.78 L394.77 141.19 L395.26 139.57 L395.74 137.91 L396.23 136.22 L396.72 134.49 L397.21 132.72 L397.7 130.93 L398.18 129.13 L398.67 127.31 L399.16 125.48 L399.65 123.66 L400.13 121.85 L400.62 120.05 L401.11 118.27 L401.6 116.53 L402.08 114.81 L402.57 113.14 L403.06 111.52 L403.55 109.95 L404.04 108.45 L404.52 107.01 L405.01 105.65 L405.5 104.37 L405.99 103.17 L406.47 101.99 L406.96 100.83 L407.45 99.69 L407.94 98.57 L408.43 97.47 L408.91 96.38 L409.4 95.31 L409.89 94.26 L410.38 93.23 L410.86 92.21 L411.35 91.21 L411.84 90.23 L412.33 89.26 L412.81 88.31 L413.3 87.38 L413.79 86.46 L414.28 85.56 L414.77 84.68 L415.25 83.81 L415.74 82.95 L416.23 82.11 L416.72 81.29 L417.2 80.48 L417.69 79.68 L418.18 78.9 L418.67 78.14 L419.16 77.38 L419.64 76.65 L420.13 75.92 L420.62 75.21 L421.11 74.51 L421.59 73.83 L422.08 73.16 L422.57 72.5 L423.06 71.86 L423.54 71.22 L424.03 70.6 L424.52 69.99 L425.01 69.39 L425.5 68.8 L425.98 68.23 L426.47 67.66 L426.96 67.1 L427.45 66.56 L427.93 66.02 L428.42 65.49 L428.91 64.97 L429.4 64.47 L429.89 63.97 L430.37 63.48 L430.86 63 L431.35 62.53 L431.84 62.06 L432.32 61.61 L432.81 61.16 L433.3 60.72 L433.79 60.29 L434.27 59.87 L434.76 59.46 L435.25 59.05 L435.74 58.65 L436.23 58.26 L436.71 57.87 L437.2 57.5 L437.69 57.12 L438.18 56.75 L438.66 56.38 L439.15 56.02 L439.64 55.66 L440.13 55.3 L440.62 54.95 L441.1 54.61 L441.59 54.26 L442.08 53.93 L442.57 53.59 L443.05 53.27 L443.54 52.94 L444.03 52.62 L444.52 52.31 L445 52 L445.49 51.7 L445.98 51.4 L446.47 51.11 L446.96 50.83 L447.44 50.55 L447.93 50.27 L448.42 50.01 L448.91 49.74 L449.39 49.49 L449.88 49.24 L450.37 49 L450.86 48.77 L451.35 48.54 L451.83 48.32 L452.32 48.1 L452.81 47.89 L453.3 47.68 L453.78 47.48 L454.27 47.27 L454.76 47.07 L455.25 46.87 L455.73 46.67 L456.22 46.47 L456.71 46.27 L457.2 46.08 L457.69 45.88 L458.17 45.69 L458.66 45.5 L459.15 45.32 L459.64 45.13 L460.12 44.95 L460.61 44.77 L461.1 44.6 L461.59 44.42 L462.08 44.25 L462.56 44.08 L463.05 43.92 L463.54 43.76 L464.03 43.6 L464.51 43.44 L465 43.28 L465.49 43.13 L465.98 42.99 L466.46 42.84 L466.95 42.7 L467.44 42.56 L467.93 42.43 L468.42 42.3 L468.9 42.17 L469.39 42.05 L469.88 41.93 L470.37 41.81 L470.85 41.7 L471.34 41.59 L471.83 41.49 L472.32 41.39 L472.81 41.29 L473.29 41.2 L473.78 41.11 L474.27 41.03 L474.76 40.95 L475.24 40.87 L475.73 40.79 L476.22 40.72 L476.71 40.64 L477.19 40.57 L477.68 40.5 L478.17 40.43 L478.66 40.36 L479.15 40.29 L479.63 40.22 L480.12 40.15 L480.61 40.09 L481.1 40.02 L481.58 39.96 L482.07 39.9 L482.56 39.83 L483.05 39.78 L483.54 39.72 L484.02 39.66 L484.51 39.6 L485 39.55 L485.49 39.49 L485.97 39.44 L486.46 39.39 L486.95 39.34 L487.44 39.29 L487.92 39.24 L488.41 39.2 L488.9 39.15 L489.39 39.11 L489.88 39.06 L490.36 39.02 L490.85 38.98 L491.34 38.94 L491.83 38.9 L492.31 38.87 L492.8 38.83 L493.29 38.8 L493.78 38.77 L494.27 38.73 L494.75 38.7 L495.24 38.67 L495.73 38.65 L496.22 38.62 L496.7 38.6 L497.19 38.57 L497.68 38.55 L498.17 38.52 L498.65 38.5 L499.14 38.48 L499.63 38.46 L500.12 38.44 L500.61 38.41 L501.09 38.39 L501.58 38.37 L502.07 38.36 L502.56 38.34 L503.04 38.32 L503.53 38.3 L504.02 38.28 L504.51 38.27 L505 38.25 L505.48 38.23 L505.97 38.22 L506.46 38.2 L506.95 38.19 L507.43 38.17 L507.92 38.16 L508.41 38.15 L508.9 38.13 L509.38 38.12 L509.87 38.11 L510.36 38.09 L510.85 38.08 L511.34 38.07 L511.82 38.06 L512.31 38.05 L512.8 38.04 L513.29 38.03 L513.77 38.02 L514.26 38.01 L514.75 38 L515.24 37.99 L515.73 37.98 L516.21 37.97 L516.7 37.96 L517.19 37.95 L517.68 37.94 L518.16 37.93 L518.65 37.92 L519.14 37.91 L519.63 37.9 L520.11 37.89 L520.6 37.88 L521.09 37.87 L521.58 37.86 L522.07 37.85 L522.55 37.85 L523.04 37.84 L523.53 37.83 L524.02 37.82 L524.5 37.81 L524.99 37.81 L525.48 37.8 L525.97 37.79 L526.46 37.78 L526.94 37.77 L527.43 37.77 L527.92 37.76 L528.41 37.75 L528.89 37.74 L529.38 37.74 L529.87 37.73 L530.36 37.72 L530.84 37.72 L531.33 37.71 L531.82 37.7 L532.31 37.7 L532.8 37.69 L533.28 37.68 L533.77 37.68 L534.26 37.67 L534.75 37.66 L535.23 37.66 L535.72 37.65 L536.21 37.65 L536.7 37.64 L537.19 37.64 L537.67 37.63 L538.16 37.62 L538.65 37.62 L539.14 37.61 L539.62 37.61 L540.11 37.6 L540.6 37.6 L541.09 37.59 L541.57 37.59 L542.06 37.58 L542.55 37.58 L543.04 37.57 L543.53 37.57 L544.01 37.56 L544.5 37.56 L544.99 37.55 L545.48 37.55 L545.96 37.54 L546.45 37.54 L546.94 37.53 L547.43 37.53 L547.92 37.52 L548.4 37.52 L548.89 37.51 L549.38 37.51 L549.87 37.5 L550.35 37.5 L550.84 37.5 L551.33 37.49 L551.82 37.49 L552.3 37.48 L552.79 37.48 L553.28 37.47 L553.77 37.47 L554.26 37.46 L554.74 37.46 L555.23 37.45 L555.72 37.45 L556.21 37.44 L556.69 37.44 L557.18 37.44 L557.67 37.43 L558.16 37.43 L558.65 37.42 L559.13 37.42 L559.62 37.41 L560.11 37.41 L560.6 37.4 L561.08 37.4 L561.57 37.4 L562.06 37.39 L562.55 37.39 L563.03 37.38 L563.52 37.38 L564.01 37.37 L564.5 37.37 L564.99 37.37 L565.47 37.36 L565.96 37.36 L566.45 37.36 L566.94 37.35 L567.42 37.35 L567.91 37.34 L568.4 37.34 L568.89 37.34 L569.38 37.33 L569.86 37.33 L570.35 37.33 L570.84 37.32 L571.33 37.32 L571.81 37.32 L572.3 37.31 L572.79 37.31 L573.28 37.31 L573.76 37.31 L574.25 37.3 L574.74 37.3 L575.23 37.3 L575.72 37.3 L576.2 37.29 L576.69 37.29 L577.18 37.29 L577.67 37.29 L578.15 37.28 L578.64 37.28 L579.13 37.28 L579.62 37.28 L580.11 37.28 L580.59 37.28 L581.08 37.27 L581.57 37.27 L582.06 37.27 L582.54 37.27 L583.03 37.27 L583.52 37.27 L584.01 37.27 L584.49 37.27 L584.98 37.27 L585.47 37.27 L585.96 37.27 L586.45 37.27 L586.93 37.27 L587.42 37.27 L587.91 37.27 L588.4 37.27 L588.88 37.27 L589.37 37.27 L589.86 37.27 L590.35 37.27 L590.84 37.27 L591.32 37.27 L591.81 37.27 L592.3 37.27 L592.79 37.27 L593.27 37.27 L593.76 37.27 L594.25 37.27 L594.74 37.28 L595.22 37.28 L595.71 37.28 L596.2 37.28 L596.69 37.28 L597.18 37.28 L597.66 37.28 L598.15 37.28 L598.64 37.28 L599.13 37.29 L599.61 37.29 L600.1 37.29 L600.59 37.29 L601.08 37.29 L601.57 37.29 L602.05 37.3 L602.54 37.3 L603.03 37.3 L603.52 37.3 L604 37.3 L604.49 37.31 L604.98 37.31 L605.47 37.31 L605.95 37.31 L606.44 37.32 L606.93 37.32 L607.42 37.32 L607.91 37.32 L608.39 37.33 L608.88 37.33 L609.37 37.33 L609.86 37.34 L610.34 37.34 L610.83 37.34 L611.32 37.35 L611.81 37.35 L612.3 37.35 L612.78 37.35 L613.27 37.36 L613.76 37.36 L614.25 37.37 L614.73 37.37 L615.22 37.37 L615.71 37.38 L616.2 37.38 L616.68 37.38 L617.17 37.39 L617.66 37.39 L618.15 37.4 L618.64 37.4 L619.12 37.41 L619.61 37.41 L620.1 37.41 L620.59 37.42 L621.07 37.42 L621.56 37.43 L622.05 37.43 L622.54 37.44 L623.03 37.44 L623.51 37.45 L624 37.45 L624.49 37.46 L624.98 37.46" stroke="#1a1a1a" stroke-width="1.3" fill="none"/>
<path d="M381.6 202.2 L382.09 197.44 L382.58 192.94 L383.06 188.68 L383.55 184.66 L384.04 180.85 L384.53 177.26 L385.01 173.85 L385.5 170.62 L385.99 167.55 L386.48 164.64 L386.97 161.86 L387.45 159.2 L387.94 156.65 L388.43 154.2 L388.92 151.83 L389.4 149.52 L389.89 147.27 L390.38 145.05 L390.87 142.87 L391.35 140.69 L391.84 138.51 L392.33 136.32 L392.82 134.1 L393.31 131.86 L393.79 129.6 L394.28 127.33 L394.77 125.06 L395.26 122.78 L395.74 120.51 L396.23 118.25 L396.72 116 L397.21 113.78 L397.7 111.58 L398.18 109.41 L398.67 107.28 L399.16 105.19 L399.65 103.14 L400.13 101.15 L400.62 99.2 L401.11 97.3 L401.6 95.45 L402.08 93.64 L402.57 91.88 L403.06 90.16 L403.55 88.47 L404.04 86.83 L404.52 85.23 L405.01 83.67 L405.5 82.14 L405.99 80.64 L406.47 79.18 L406.96 77.75 L407.45 76.36 L407.94 74.99 L408.43 73.65 L408.91 72.34 L409.4 71.06 L409.89 69.8 L410.38 68.57 L410.86 67.36 L411.35 66.17 L411.84 65.01 L412.33 63.88 L412.81 62.76 L413.3 61.67 L413.79 60.6 L414.28 59.55 L414.77 58.52 L415.25 57.52 L415.74 56.54 L416.23 55.57 L416.72 54.63 L417.2 53.71 L417.69 52.8 L418.18 51.92 L418.67 51.05 L419.16 50.2 L419.64 49.37 L420.13 48.56 L420.62 47.77 L421.11 46.99 L421.59 46.24 L422.08 45.49 L422.57 44.77 L423.06 44.06 L423.54 43.38 L424.03 42.7 L424.52 42.05 L425.01 41.41 L425.5 40.79 L425.98 40.18 L426.47 39.59 L426.96 39.02 L427.45 38.46 L427.93 37.92 L428.42 37.39 L428.91 36.88 L429.4 36.38 L429.89 35.9 L430.37 35.43 L430.86 34.98 L431.35 34.54 L431.84 34.11 L432.32 33.69 L432.81 33.28 L433.3 32.89 L433.79 32.51 L434.27 32.14 L434.76 31.77 L435.25 31.42 L435.74 31.08 L436.23 30.74 L436.71 30.42 L437.2 30.1 L437.69 29.79 L438.18 29.49 L438.66 29.19 L439.15 28.9 L439.64 28.61 L440.13 28.34 L440.62 28.06 L441.1 27.79 L441.59 27.53 L442.08 27.27 L442.57 27.01 L443.05 26.75 L443.54 26.5 L444.03 26.25 L444.52 26.01 L445 25.76 L445.49 25.53 L445.98 25.29 L446.47 25.07 L446.96 24.84 L447.44 24.63 L447.93 24.42 L448.42 24.22 L448.91 24.03 L449.39 23.84 L449.88 23.67 L450.37 23.5 L450.86 23.34 L451.35 23.18 L451.83 23.03 L452.32 22.89 L452.81 22.76 L453.3 22.63 L453.78 22.51 L454.27 22.39 L454.76 22.28 L455.25 22.18 L455.73 22.08 L456.22 21.99 L456.71 21.9 L457.2 21.82 L457.69 21.74 L458.17 21.67 L458.66 21.61 L459.15 21.54 L459.64 21.49 L460.12 21.43 L460.61 21.38 L461.1 21.34 L461.59 21.3 L462.08 21.26 L462.56 21.23 L463.05 21.2 L463.54 21.17 L464.03 21.15 L464.51 21.13 L465 21.11 L465.49 21.1 L465.98 21.09 L466.46 21.08 L466.95 21.07 L467.44 21.07 L467.93 21.06 L468.42 21.06 L468.9 21.06 L469.39 21.07 L469.88 21.07 L470.37 21.08 L470.85 21.09 L471.34 21.1 L471.83 21.11 L472.32 21.13 L472.81 21.14 L473.29 21.16 L473.78 21.18 L474.27 21.2 L474.76 21.22 L475.24 21.25 L475.73 21.27 L476.22 21.3 L476.71 21.33 L477.19 21.36 L477.68 21.39 L478.17 21.42 L478.66 21.45 L479.15 21.49 L479.63 21.52 L480.12 21.56 L480.61 21.6 L481.1 21.64 L481.58 21.68 L482.07 21.72 L482.56 21.76 L483.05 21.8 L483.54 21.84 L484.02 21.88 L484.51 21.93 L485 21.97 L485.49 22.02 L485.97 22.06 L486.46 22.11 L486.95 22.16 L487.44 22.21 L487.92 22.26 L488.41 22.3 L488.9 22.35 L489.39 22.41 L489.88 22.46 L490.36 22.51 L490.85 22.56 L491.34 22.61 L491.83 22.67 L492.31 22.72 L492.8 22.78 L493.29 22.84 L493.78 22.89 L494.27 22.95 L494.75 23.01 L495.24 23.07 L495.73 23.13 L496.22 23.19 L496.7 23.25 L497.19 23.31 L497.68 23.38 L498.17 23.44 L498.65 23.5 L499.14 23.57 L499.63 23.63 L500.12 23.7 L500.61 23.77 L501.09 23.84 L501.58 23.91 L502.07 23.98 L502.56 24.05 L503.04 24.12 L503.53 24.19 L504.02 24.26 L504.51 24.34 L505 24.41 L505.48 24.49 L505.97 24.56 L506.46 24.64 L506.95 24.72 L507.43 24.79 L507.92 24.87 L508.41 24.95 L508.9 25.03 L509.38 25.11 L509.87 25.19 L510.36 25.27 L510.85 25.35 L511.34 25.43 L511.82 25.51 L512.31 25.6 L512.8 25.68 L513.29 25.76 L513.77 25.84 L514.26 25.92 L514.75 26 L515.24 26.08 L515.73 26.17 L516.21 26.25 L516.7 26.33 L517.19 26.41 L517.68 26.49 L518.16 26.57 L518.65 26.65 L519.14 26.73 L519.63 26.81 L520.11 26.88 L520.6 26.96 L521.09 27.04 L521.58 27.11 L522.07 27.19 L522.55 27.26 L523.04 27.34 L523.53 27.41 L524.02 27.48 L524.5 27.55 L524.99 27.63 L525.48 27.69 L525.97 27.76 L526.46 27.83 L526.94 27.9 L527.43 27.96 L527.92 28.03 L528.41 28.09 L528.89 28.15 L529.38 28.22 L529.87 28.28 L530.36 28.34 L530.84 28.4 L531.33 28.46 L531.82 28.51 L532.31 28.57 L532.8 28.63 L533.28 28.69 L533.77 28.74 L534.26 28.8 L534.75 28.85 L535.23 28.91 L535.72 28.96 L536.21 29.01 L536.7 29.07 L537.19 29.12 L537.67 29.17 L538.16 29.22 L538.65 29.27 L539.14 29.32 L539.62 29.37 L540.11 29.42 L540.6 29.47 L541.09 29.52 L541.57 29.57 L542.06 29.62 L542.55 29.67 L543.04 29.72 L543.53 29.77 L544.01 29.82 L544.5 29.86 L544.99 29.91 L545.48 29.96 L545.96 30.01 L546.45 30.06 L546.94 30.11 L547.43 30.15 L547.92 30.2 L548.4 30.25 L548.89 30.3 L549.38 30.35 L549.87 30.39 L550.35 30.44 L550.84 30.49 L551.33 30.54 L551.82 30.59 L552.3 30.63 L552.79 30.68 L553.28 30.73 L553.77 30.78 L554.26 30.83 L554.74 30.87 L555.23 30.92 L555.72 30.97 L556.21 31.02 L556.69 31.06 L557.18 31.11 L557.67 31.16 L558.16 31.2 L558.65 31.25 L559.13 31.3 L559.62 31.35 L560.11 31.39 L560.6 31.44 L561.08 31.49 L561.57 31.53 L562.06 31.58 L562.55 31.62 L563.03 31.67 L563.52 31.72 L564.01 31.76 L564.5 31.81 L564.99 31.85 L565.47 31.9 L565.96 31.94 L566.45 31.99 L566.94 32.03 L567.42 32.08 L567.91 32.12 L568.4 32.17 L568.89 32.21 L569.38 32.26 L569.86 32.3 L570.35 32.35 L570.84 32.39 L571.33 32.43 L571.81 32.48 L572.3 32.52 L572.79 32.56 L573.28 32.61 L573.76 32.65 L574.25 32.69 L574.74 32.74 L575.23 32.78 L575.72 32.82 L576.2 32.86 L576.69 32.9 L577.18 32.95 L577.67 32.99 L578.15 33.03 L578.64 33.07 L579.13 33.11 L579.62 33.15 L580.11 33.19 L580.59 33.23 L581.08 33.27 L581.57 33.31 L582.06 33.35 L582.54 33.39 L583.03 33.43 L583.52 33.47 L584.01 33.5 L584.49 33.54 L584.98 33.58 L585.47 33.62 L585.96 33.66 L586.45 33.69 L586.93 33.73 L587.42 33.77 L587.91 33.8 L588.4 33.84 L588.88 33.88 L589.37 33.91 L589.86 33.95 L590.35 33.98 L590.84 34.02 L591.32 34.05 L591.81 34.08 L592.3 34.12 L592.79 34.15 L593.27 34.19 L593.76 34.22 L594.25 34.25 L594.74 34.28 L595.22 34.32 L595.71 34.35 L596.2 34.38 L596.69 34.41 L597.18 34.44 L597.66 34.47 L598.15 34.5 L598.64 34.53 L599.13 34.56 L599.61 34.59 L600.1 34.62 L600.59 34.65 L601.08 34.68 L601.57 34.7 L602.05 34.73 L602.54 34.76 L603.03 34.79 L603.52 34.81 L604 34.84 L604.49 34.86 L604.98 34.89 L605.47 34.92 L605.95 34.94 L606.44 34.96 L606.93 34.99 L607.42 35.01 L607.91 35.03 L608.39 35.06 L608.88 35.08 L609.37 35.1 L609.86 35.12 L610.34 35.14 L610.83 35.16 L611.32 35.19 L611.81 35.21 L612.3 35.22 L612.78 35.24 L613.27 35.26 L613.76 35.28 L614.25 35.3 L614.73 35.32 L615.22 35.33 L615.71 35.35 L616.2 35.37 L616.68 35.38 L617.17 35.4 L617.66 35.41 L618.15 35.43 L618.64 35.44 L619.12 35.45 L619.61 35.47 L620.1 35.48 L620.59 35.49 L621.07 35.5 L621.56 35.51 L622.05 35.52 L622.54 35.53 L623.03 35.54 L623.51 35.55 L624 35.56 L624.49 35.57 L624.98 35.58" stroke="#1a1a1a" stroke-width="1.3" fill="none"/>
<rect x="426" y="8.2" width="22.1" height="18.5" fill="#fff"/>
<text x="427.3" y="23" font-size="14.6" font-style="italic" fill="#1a1a1a" class="t">0.9</text>
<rect x="430.3" y="39.6" width="22" height="18" fill="#fff"/>
<text x="431.7" y="53.4" font-size="14.6" font-style="italic" fill="#1a1a1a" class="t">0.5</text>
<rect x="432.3" y="74.4" width="22.6" height="18.8" fill="#fff"/>
<text x="434.2" y="89.2" font-size="14.6" font-style="italic" fill="#1a1a1a" class="t">0.1</text>
<text x="443.9" y="124.8" font-size="14.6" font-style="italic" fill="#1a1a1a" class="t">r</text>
<rect x="54.8" y="5.35" width="245.5" height="196.95" stroke="#4d4d4d" stroke-width="1.2" fill="none"/>
<rect x="381.6" y="5.5" width="246" height="196.7" stroke="#4d4d4d" stroke-width="1.2" fill="none"/>
<path d="M54.8 202.3 v4 M79.35 202.3 v1.7 M103.9 202.3 v4 M128.45 202.3 v1.7 M153 202.3 v4 M177.55 202.3 v1.7 M202.1 202.3 v4 M226.65 202.3 v1.7 M251.2 202.3 v4 M275.75 202.3 v1.7 M300.3 202.3 v4 M54.8 5.35 h-4 M54.8 29.97 h-1.7 M54.8 54.59 h-4 M54.8 79.21 h-1.7 M54.8 103.83 h-4 M54.8 128.44 h-1.7 M54.8 153.06 h-4 M54.8 177.68 h-1.7 M54.8 202.3 h-4 M381.6 202.2 v4 M402.1 202.2 v1.7 M422.6 202.2 v4 M443.1 202.2 v1.7 M463.6 202.2 v4 M484.1 202.2 v1.7 M504.6 202.2 v4 M525.1 202.2 v1.7 M545.6 202.2 v4 M566.1 202.2 v1.7 M586.6 202.2 v4 M607.1 202.2 v1.7 M627.6 202.2 v4 M381.6 5.5 h-4 M381.6 21.89 h-1.7 M381.6 38.28 h-4 M381.6 54.68 h-1.7 M381.6 71.07 h-4 M381.6 87.46 h-1.7 M381.6 103.85 h-4 M381.6 120.24 h-1.7 M381.6 136.63 h-4 M381.6 153.02 h-1.7 M381.6 169.42 h-4 M381.6 185.81 h-1.7 M381.6 202.2 h-4" stroke="#4d4d4d" stroke-width="1.2" fill="none"/>
<text x="54.8" y="218.6" font-size="12" text-anchor="middle" fill="#1a1a1a" class="t">0.0</text>
<text x="103.9" y="218.6" font-size="12" text-anchor="middle" fill="#1a1a1a" class="t">0.2</text>
<text x="153" y="218.6" font-size="12" text-anchor="middle" fill="#1a1a1a" class="t">0.4</text>
<text x="202.1" y="218.6" font-size="12" text-anchor="middle" fill="#1a1a1a" class="t">0.6</text>
<text x="251.2" y="218.6" font-size="12" text-anchor="middle" fill="#1a1a1a" class="t">0.8</text>
<text x="300.3" y="218.6" font-size="12" text-anchor="middle" fill="#1a1a1a" class="t">1.0</text>
<text x="48.3" y="9.25" font-size="12.2" text-anchor="end" fill="#1a1a1a" class="t">0.00</text>
<text x="48.3" y="58.49" font-size="12.2" text-anchor="end" fill="#1a1a1a" class="t">-0.05</text>
<text x="48.3" y="107.73" font-size="12.2" text-anchor="end" fill="#1a1a1a" class="t">-0.10</text>
<text x="48.3" y="156.96" font-size="12.2" text-anchor="end" fill="#1a1a1a" class="t">-0.15</text>
<text x="48.3" y="206.2" font-size="12.2" text-anchor="end" fill="#1a1a1a" class="t">-0.20</text>
<text x="381.6" y="218.6" font-size="12" text-anchor="middle" fill="#1a1a1a" class="t">0.0</text>
<text x="422.6" y="218.6" font-size="12" text-anchor="middle" fill="#1a1a1a" class="t">0.5</text>
<text x="463.6" y="218.6" font-size="12" text-anchor="middle" fill="#1a1a1a" class="t">1.0</text>
<text x="504.6" y="218.6" font-size="12" text-anchor="middle" fill="#1a1a1a" class="t">1.5</text>
<text x="545.6" y="218.6" font-size="12" text-anchor="middle" fill="#1a1a1a" class="t">2.0</text>
<text x="586.6" y="218.6" font-size="12" text-anchor="middle" fill="#1a1a1a" class="t">2.5</text>
<text x="627.6" y="218.6" font-size="12" text-anchor="middle" fill="#1a1a1a" class="t">3.0</text>
<text x="375.4" y="9.1" font-size="12" text-anchor="end" fill="#1a1a1a" class="t">0.2</text>
<text x="375.4" y="41.88" font-size="12" text-anchor="end" fill="#1a1a1a" class="t">0.0</text>
<text x="375.4" y="74.67" font-size="12" text-anchor="end" fill="#1a1a1a" class="t">-0.2</text>
<text x="375.4" y="107.45" font-size="12" text-anchor="end" fill="#1a1a1a" class="t">-0.4</text>
<text x="375.4" y="140.23" font-size="12" text-anchor="end" fill="#1a1a1a" class="t">-0.6</text>
<text x="375.4" y="173.02" font-size="12" text-anchor="end" fill="#1a1a1a" class="t">-0.8</text>
<text x="375.4" y="205.8" font-size="12" text-anchor="end" fill="#1a1a1a" class="t">-1.0</text>
<text x="69.3" y="242.1" font-size="15.2" fill="#1a1a1a" class="t">Normalized signal wave power <tspan font-style="italic" font-size="16" dx="1.2">r</tspan></text>
<text x="431.4" y="242.1" font-size="15.2" fill="#1a1a1a" class="t">Normalized time </text>
<text y="241.3" fill="#1a1a1a" style="font-family:'Liberation Serif',serif"><tspan x="546.3" font-size="14.6">(</tspan><tspan x="551.2" font-size="15.5" font-style="italic">t</tspan><tspan x="556.4" font-size="15.5" font-style="italic">/</tspan><tspan x="561.7" font-size="13" font-style="italic">τ</tspan><tspan x="567.2" y="244.5" font-size="11.5" font-style="italic">0</tspan><tspan x="573.2" y="241.3" font-size="14.6">)</tspan></text>
<text transform="translate(11.8 170.9) rotate(-90)" font-size="15.5" fill="#1a1a1a" class="t">Normalized values</text>
<text transform="translate(339.4 207.8) rotate(-90)" font-size="15.6" fill="#1a1a1a" class="t">Normalized TWM response</text>
<text x="144.3" y="272.25" font-size="26.7" fill="#1a1a1a" style="font-family:'DejaVu Sans',sans-serif;font-stretch:condensed">a</text>
<text x="472.3" y="269.1" font-size="28.2" fill="#1a1a1a" style="font-family:'Liberation Serif',serif">b</text></svg>
</body></html>
